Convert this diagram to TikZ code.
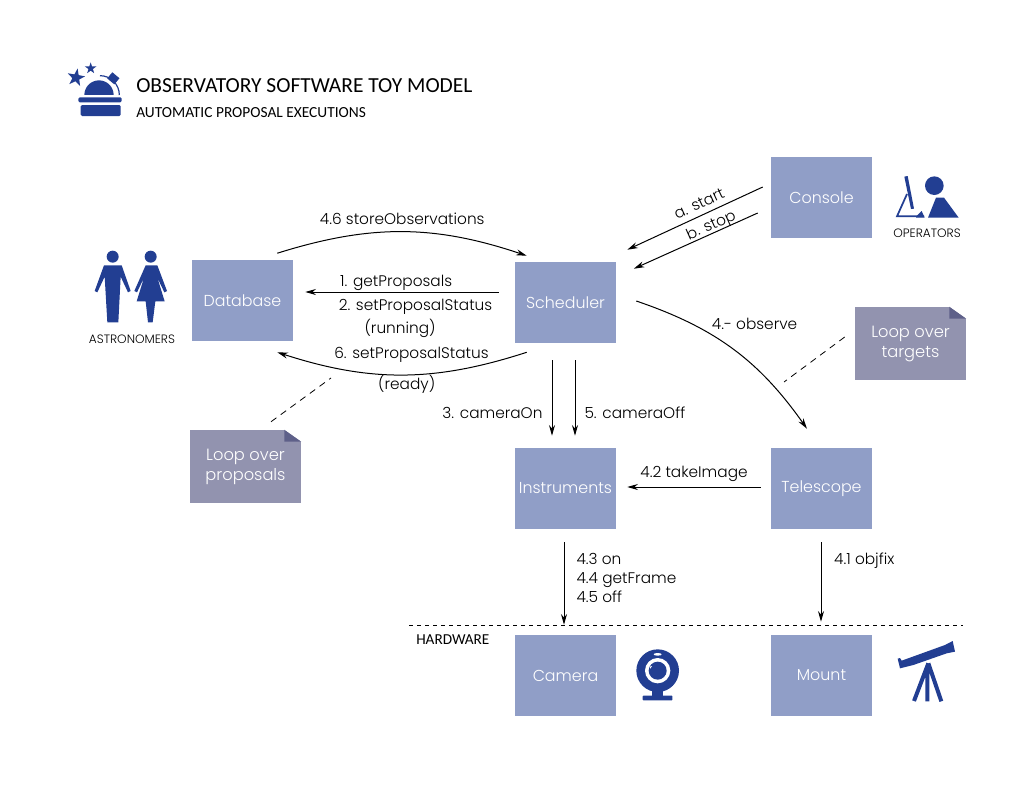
\documentclass[tikz,border=0pt]{standalone}
\usepackage{fontspec}
\setmainfont{Carlito}
\newfontfamily\labelfont{Poppins Light}
\usetikzlibrary{arrows.meta, positioning}
\definecolor{boxblue}{HTML}{909EC7}
\definecolor{notegray}{HTML}{9293AF}
\definecolor{foldgray}{HTML}{5E6089}
\definecolor{iconblue}{HTML}{223E92}
\tikzset{
    unit/.style={fill=boxblue, text=white, minimum width=75.75pt, minimum height=60.75pt, inner sep=0pt, font=\labelfont\fontsize{11.9}{13}\selectfont},
    memo/.style={fill=notegray, text=white, minimum width=83.25pt, minimum height=54.75pt, inner sep=0pt, align=center, font=\labelfont\fontsize{12.2}{15}\selectfont},
    flow/.style={-{Stealth[length=8pt,width=4.5pt]}, line width=0.75pt},
    hint/.style={dash pattern=on 5pt off 4pt, line width=0.6pt},
    lbl/.style={font=\labelfont\fontsize{11.5}{14.25}\selectfont, inner sep=0pt},
    caption/.style={font=\labelfont\fontsize{9.1}{10}\selectfont, inner sep=0pt},
}
\begin{document}
\begin{tikzpicture}[x=0.75pt, y=-0.75pt]
    \useasboundingbox (0,0) rectangle (1035,792);

    \node[unit] (database) at (242.5,300.5) {Database};
    \node[unit] (scheduler) at (565.5,302.5) {Scheduler};
    \node[unit] (console) at (821.5,197.5) {Console};
    \node[unit] (instruments) at (565.5,488.5) {Instruments};
    \node[unit] (telescope) at (821.5,488.5) {Telescope};
    \node[unit] (camera) at (565.5,675.5) {Camera};
    \node[unit] (mount) at (821.5,675.5) {Mount};

    \node[memo] (targets) at (910.5,343.5) {Loop over\\targets};
    \node[memo] (proposals) at (245.5,466.5) {Loop over\\proposals};
    \foreach \memo in {targets, proposals} {
        \fill[white] (\memo.north east) -- ++(-17,0) -- ++(17,12) -- cycle;
        \fill[foldgray] ([xshift=-12.75pt]\memo.north east) -- ++(17,12) -- ++(-17,0) -- cycle;
    }

    \node[inner sep=0pt, anchor=west, font=\fontsize{16.1}{18}\selectfont] (title) at (136,86) {OBSERVATORY SOFTWARE TOY MODEL};
    \node[inner sep=0pt, anchor=west, font=\fontsize{11.55}{12}\selectfont] (subtitle) at (136,113) {AUTOMATIC PROPOSAL EXECUTIONS};
    \node[caption] (astronomers) at (132,339) {ASTRONOMERS};
    \node[caption] (operators) at (927,233) {OPERATORS};
    \node[caption, anchor=west, font=\fontsize{11.4}{10}\selectfont] (hardware) at (416,640) {HARDWARE};

    \draw[flow] ([shift={(-16,-6.5)}]database.north east) to[bend left=18]
        node[lbl, midway, yshift=10pt] {4.6 storeObservations} ([shift={(12,-6)}]scheduler.north west);
    \draw[flow] ([shift={(-16,-10.5)}]scheduler.west) -- ([shift={(12,-8.5)}]database.east)
        node[lbl, pos=0.53, yshift=7pt] {1. getProposals}
        node[lbl, pos=0.43, yshift=-11pt] {2. setProposalStatus}
        node[lbl, pos=0.51, yshift=-27pt] {(running)};
    \draw[flow] ([shift={(12,9)}]scheduler.south west) to[bend left=18]
        node[lbl, pos=0.46, yshift=15pt] {6. setProposalStatus}
        node[lbl, pos=0.48, yshift=-7.5pt] {(ready)} ([shift={(-16,11)}]database.south east);
    \draw[flow] ([shift={(-8,-10.5)}]console.west) -- ([shift={(11,-12)}]scheduler.north east)
        node[lbl, pos=0.46, xshift=-1pt, yshift=9pt, rotate=25] {a. start};
    \draw[flow] ([shift={(-13,15.5)}]console.west) -- ([shift={(17.5,7)}]scheduler.north east)
        node[lbl, pos=0.39, xshift=1.5pt, yshift=6.5pt, rotate=24] {b. stop};
    \draw[flow] ([shift={(20,-1.5)}]scheduler.east) to[bend left=18]
        node[lbl, pos=0.5, xshift=16pt, yshift=19pt] {4.- observe} ([shift={(-14.5,-19)}]telescope.north);
    \draw[flow] ([shift={(-13.5,17)}]scheduler.south) -- ([shift={(-13.5,-12)}]instruments.north)
        node[lbl, pos=0.7, xshift=-6.75pt, anchor=east] {3. cameraOn};
    \draw[flow] ([shift={(9.5,17)}]scheduler.south) -- ([shift={(9.5,-12)}]instruments.north)
        node[lbl, pos=0.7, xshift=6.75pt, anchor=west] {5. cameraOff};
    \draw[flow] ([shift={(-10,-1.5)}]telescope.west) -- ([shift={(11,-1.5)}]instruments.east)
        node[lbl, midway, yshift=10pt] {4.2 takeImage};
    \draw[flow] ([shift={(-1.5,13)}]instruments.south) -- ([shift={(-1.5,-10)}]camera.north)
        node[lbl, pos=0.4, xshift=9pt, yshift=-2pt, anchor=west, align=left] {4.3 on\\4.4 getFrame\\4.5 off};
    \draw[flow] ([shift={(-0.5,13)}]telescope.south) -- ([shift={(-0.5,-13)}]mount.north)
        node[lbl, pos=0.2, xshift=9.5pt, yshift=-2pt, anchor=west] {4.1 objfix};

    \coordinate (targetsend) at (784,382);
    \coordinate (proposalsend) at (331,378);
    \coordinate (hwleft) at (409,625);
    \coordinate (hwright) at (963,625);
    \draw[hint] ([shift={(-10,-6.5)}]targets.west) -- (targetsend);
    \draw[hint] ([shift={(25.5,-8)}]proposals.north) -- (proposalsend);
    \draw[dash pattern=on 3pt off 3pt, line width=0.6pt] (hwleft) -- (hwright);

    % observatory
    \begin{scope}[shift={(50,50)}, x=0.25pt, y=-0.25pt, fill=iconblue]
        \fill (103,135) arc[start angle=180, end angle=360, radius=44] -- cycle;
        \draw[iconblue, line width=0.9pt] (150,77) arc[start angle=270, end angle=360, radius=58];
        \fill[rotate around={-40:(190,85)}] (176,73) rectangle (204,97);
        \fill[rounded corners=1pt] (85,142) rectangle (215,157);
        \fill[rounded corners=1pt] (92,165) rectangle (212,198);
        \fill[rotate around={-10:(78,83)}] (78,55) \foreach \a in {1,...,9} {-- ({78+(mod(\a,2)==0 ? 28 : 11)*sin(36*\a)},{83-(mod(\a,2)==0 ? 28 : 11)*cos(36*\a)})} -- cycle;
        \fill (122,37) \foreach \a in {1,...,9} {-- ({122+(mod(\a,2)==0 ? 18 : 7)*sin(36*\a)},{55-(mod(\a,2)==0 ? 18 : 7)*cos(36*\a)})} -- cycle;
    \end{scope}

    % astronomers
    \begin{scope}[shift={(80,240)}, x=0.25pt, y=-0.25pt, fill=iconblue]
        \fill (98,50) circle[radius=4.5pt];
        \fill (72,76) -- (125,76) -- (152,153) -- (144,157) -- (122,110) -- (115,247) -- (82,247) -- (74,110) -- (52,157) -- (44,153) -- cycle;
        \fill (212,50) circle[radius=4.5pt];
        \fill (197,76) -- (232,76) -- (261,153) -- (253,157) -- (232,113) -- (254,184) -- (226,184) -- (218,247) -- (204,247) -- (197,184) -- (170,184) -- (192,113) -- (171,157) -- (163,153) -- cycle;
    \end{scope}

    % operators
    \begin{scope}[shift={(620,150)}, x=0.25pt, y=-0.25pt, fill=iconblue]
        \fill (943,107) circle[radius=7pt];
        \fill (948,143) -- (972,143) -- (1016,203) -- (924,203) -- cycle;
        \fill (853,80) -- (863,78) -- (882,176) -- (873,177) -- cycle;
        \draw[iconblue, line width=1.3pt] (861,132) -- (831,199) -- (912,199);
        \fill (888,200) -- (905,183) -- (914,203) -- (888,203) -- cycle;
    \end{scope}

    % webcam
    \begin{scope}[shift={(620,630)}, x=0.25pt, y=-0.25pt, fill=iconblue]
        \fill (113,122) circle[radius=16pt];
        \fill[white] (113,122) circle[radius=9.5pt];
        \fill (113,122) circle[radius=6.75pt];
        \fill[white] (113,73) ellipse[x radius=3pt, y radius=1pt];
        \fill[white] (89,110) -- (96,108) -- (91,116) -- cycle;
        \fill (97,183) rectangle (130,199);
        \fill[rounded corners=0.5pt] (68,197) rectangle (157,211);
    \end{scope}

    % telescope
    \begin{scope}[shift={(620,630)}, x=0.25pt, y=-0.25pt, fill=iconblue]
        \fill (833,86) -- (840,84) -- (845,92) -- (975,45) -- (998,33) -- (1005,65) -- (980,70) -- (880,105) -- (840,115) -- cycle;
        \draw[iconblue, line width=3pt] (925,100) -- (882,213) (922,105) -- (922,214) (925,100) -- (964,214);
    \end{scope}
\end{tikzpicture}
\end{document}
